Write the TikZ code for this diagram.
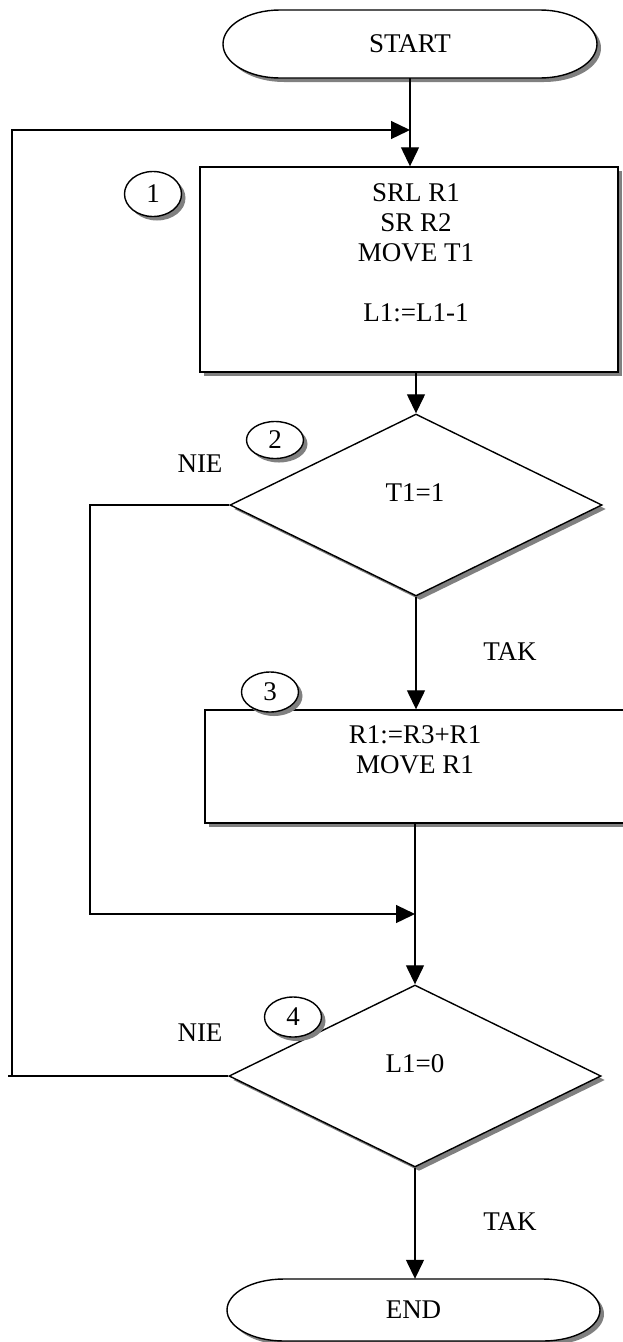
\documentclass[tikz,border=0pt]{standalone}
\usepackage{fontspec}
\setmainfont{Liberation Serif}
\usetikzlibrary{arrows.meta,shapes.geometric,shadows}
\begin{document}
\begin{tikzpicture}[x=1pt,y=-1pt,
 ln/.style={line width=1.4pt},
 conn/.style={line width=1.3pt,-{Triangle[length=19pt,width=18pt]}},
 plain/.style={line width=1.3pt},
 shad/.style={drop shadow={shadow xshift=4pt,shadow yshift=-4pt,fill=black!50,opacity=1}},
 proc/.style={rectangle,draw,ln,fill=white,shad,inner sep=0pt},
 dec/.style={diamond,draw,ln,fill=white,shad,inner sep=0pt,minimum width=372pt,minimum height=182pt},
 num/.style={ellipse,draw,ln,fill=white,shad,minimum width=57pt,minimum height=45pt,inner sep=0pt,font=\fontsize{27}{31}\selectfont},
 txt/.style={font=\fontsize{27}{30}\selectfont,align=center,inner sep=0pt},
 term/.style={minimum width=374pt,minimum height=68pt,inner sep=0pt,font=\fontsize{27}{31}\selectfont},
]
\useasboundingbox (0,0) rectangle (622,1342);
% START terminator
\draw[ln,fill=white,shad] (280,10) -- (540,10) arc[start angle=-90,end angle=90,x radius=57,y radius=34] -- (280,78) arc[start angle=90,end angle=270,x radius=57,y radius=34] -- cycle;
\node[term] (start) at (410,44) {START};
% box 1
\node[proc,minimum width=418pt,minimum height=205pt] (box1) at (409,269.5) {};
\node[txt] (t1) at (416,253) {SRL R1\\SR R2\\MOVE T1\\\mbox{}\\L1:=L1-1};
\node[num] (c1) at (153,194) {1};
% decision 1
\node[dec] (dec1) at (416,505) {};
\node[txt] (t2) at (415,493) {T1=1};
\node[num,minimum height=37pt] (c2) at (275,440) {2};
% box 3
\node[proc,minimum width=435pt,minimum height=113pt] (box3) at (422.5,766.5) {};
\node[txt] (t3) at (415,750) {R1:=R3+R1\\MOVE R1};
\node[num,minimum height=40pt] (c3) at (270,692) {3};
% decision 2
\node[dec] (dec2) at (415,1076) {};
\node[txt] (t4) at (415,1064) {L1=0};
\node[num,minimum height=40pt] (c4) at (293,1017) {4};
% END terminator
\draw[ln,fill=white,shad] (284,1279) -- (543,1279) arc[start angle=-90,end angle=90,x radius=57,y radius=31] -- (284,1341) arc[start angle=90,end angle=270,x radius=57,y radius=31] -- cycle;
\node[term,minimum height=62pt] (end) at (413.5,1310) {END};
% labels
\node[txt] (n1) at (200,464) {NIE};
\node[txt] (y1) at (510,652) {TAK};
\node[txt] (n2) at (200,1033) {NIE};
\node[txt] (y2) at (510,1222) {TAK};
% coordinates
\coordinate (lb0) at (8,1076);
\coordinate (lb) at (12,1076);
\coordinate (lt) at (12,130);
\coordinate (jt) at (410,130);
\coordinate (m1) at (90,505);
\coordinate (m2) at (90,914);
\coordinate (jm) at (415,914);
% connectors
\draw[conn] (start.south) -- (start.south |- box1.north);
\draw[plain] (dec2.west) -- (lb0);
\draw[conn] (lb) -- (lt) -- (jt);
\draw[conn] (dec1.north |- box1.south) -- (dec1.north);
\draw[conn] (dec1.south) -- (dec1.south |- box3.north);
\draw[conn] (dec1.west) -- (m1) -- (m2) -- (jm);
\draw[conn] (dec2.north |- box3.south) -- (dec2.north);
\draw[conn] (dec2.south) -- (dec2.south |- end.north);
\end{tikzpicture}
\end{document}
